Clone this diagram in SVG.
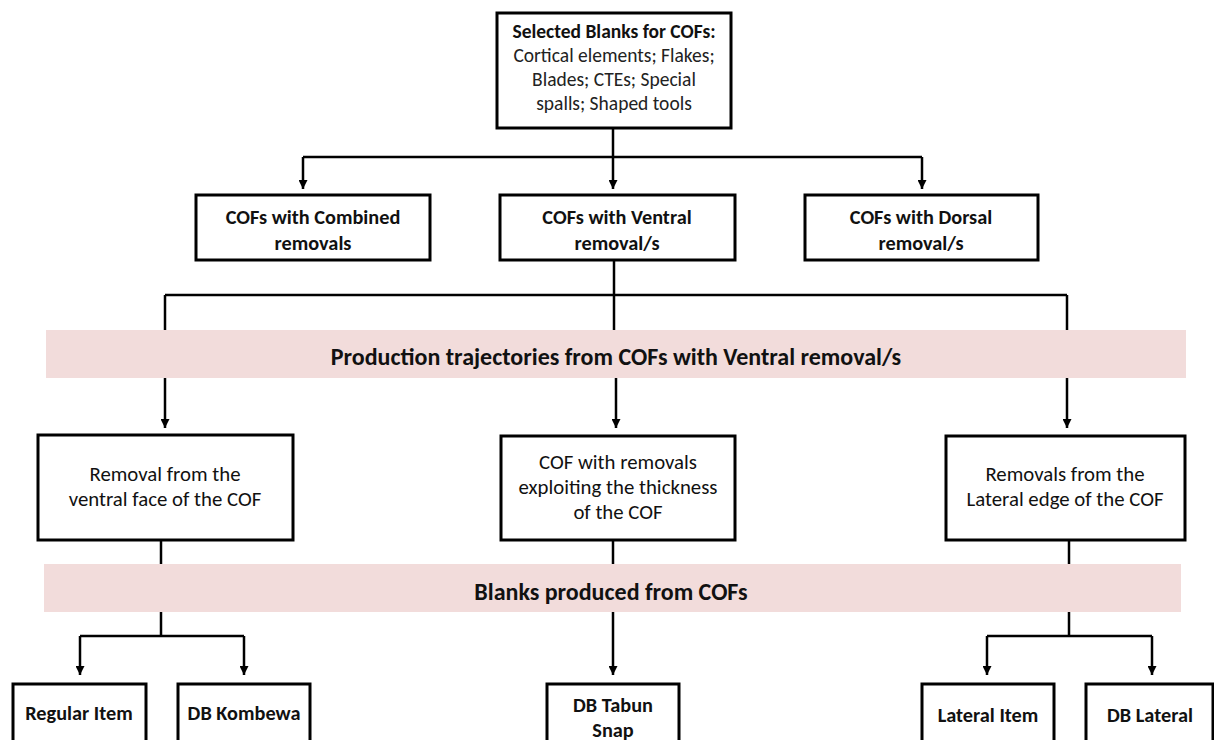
<svg xmlns="http://www.w3.org/2000/svg" width="1214" height="740" viewBox="0 0 1214 740">
<style>
.box{fill:#fff;stroke:#000;stroke-width:3}
.ln{fill:none;stroke:#000;stroke-width:2.5}
.band{fill:#f2dcdb}
text{font-family:Carlito,Lato,"Liberation Sans",sans-serif;fill:#111;text-anchor:middle}
.t1{font-size:19.5px;fill:#222}
.t2{font-size:19.5px;font-weight:bold}
.t3{font-size:20.8px}
.t4{font-size:20.3px;font-weight:bold}
.bt{font-size:24px;font-weight:bold}
</style>
<defs>
<marker id="arr" viewBox="0 0 10 10" refX="10" refY="5" markerWidth="11" markerHeight="9" orient="auto" markerUnits="userSpaceOnUse">
<path d="M0,0 L10,5 L0,10 z" fill="#000"/>
</marker>
</defs>
<rect width="1214" height="740" fill="#fff"/>
<g id="connectors">
<path class="ln" d="M613,128 V189" marker-end="url(#arr)"/>
<path class="ln" d="M303,157 H922"/>
<path class="ln" d="M303,157 V189" marker-end="url(#arr)"/>
<path class="ln" d="M922,157 V189" marker-end="url(#arr)"/>
<path class="ln" d="M614,260 V340"/>
<path class="ln" d="M165,295 H1067"/>
<path class="ln" d="M165,295 V340"/>
<path class="ln" d="M1067,295 V340"/>
<path class="ln" d="M165,370 V428" marker-end="url(#arr)"/>
<path class="ln" d="M616,370 V428" marker-end="url(#arr)"/>
<path class="ln" d="M1067,370 V428" marker-end="url(#arr)"/>
<path class="ln" d="M161,540 V570"/>
<path class="ln" d="M613,540 V570"/>
<path class="ln" d="M1069,540 V570"/>
<path class="ln" d="M161,605 V636"/>
<path class="ln" d="M80,636 H244"/>
<path class="ln" d="M80,636 V675" marker-end="url(#arr)"/>
<path class="ln" d="M244,636 V675" marker-end="url(#arr)"/>
<path class="ln" d="M613,605 V675" marker-end="url(#arr)"/>
<path class="ln" d="M1069,605 V636"/>
<path class="ln" d="M987,636 H1152"/>
<path class="ln" d="M987,636 V675" marker-end="url(#arr)"/>
<path class="ln" d="M1152,636 V675" marker-end="url(#arr)"/>
</g>
<g id="band1">
<rect class="band" x="46" y="330" width="1140" height="48"/>
<text class="bt" x="616" y="365">Production trajectories from COFs with Ventral removal/s</text>
</g>
<g id="band2">
<rect class="band" x="44" y="564" width="1137" height="48"/>
<text class="bt" x="611" y="600">Blanks produced from COFs</text>
</g>
<g id="n-top">
<rect class="box" x="497" y="13" width="234" height="115"/>
<text class="t2" x="614" y="38">Selected Blanks for COFs:</text>
<text class="t1" x="614" y="62">Cortical elements; Flakes;</text>
<text class="t1" x="614" y="86">Blades; CTEs; Special</text>
<text class="t1" x="614" y="110">spalls; Shaped tools</text>
</g>
<g id="n-combined">
<rect class="box" x="196" y="195" width="234" height="65"/>
<text class="t4" x="313" y="224">COFs with Combined</text>
<text class="t4" x="313" y="250">removals</text>
</g>
<g id="n-ventral">
<rect class="box" x="500" y="195" width="235" height="65"/>
<text class="t4" x="617" y="224">COFs with Ventral</text>
<text class="t4" x="617" y="250">removal/s</text>
</g>
<g id="n-dorsal">
<rect class="box" x="805" y="195" width="233" height="65"/>
<text class="t4" x="921" y="224">COFs with Dorsal</text>
<text class="t4" x="921" y="250">removal/s</text>
</g>
<g id="n-ventralface">
<rect class="box" x="38" y="435" width="255" height="105"/>
<text class="t3" x="165" y="481">Removal from the</text>
<text class="t3" x="165" y="506">ventral face of the COF</text>
</g>
<g id="n-thickness">
<rect class="box" x="501" y="436" width="234" height="104"/>
<text class="t3" x="618" y="469">COF with removals</text>
<text class="t3" x="618" y="494">exploiting the thickness</text>
<text class="t3" x="618" y="519">of the COF</text>
</g>
<g id="n-lateraledge">
<rect class="box" x="946" y="436" width="239" height="104"/>
<text class="t3" x="1065" y="481">Removals from the</text>
<text class="t3" x="1065" y="506">Lateral edge of the COF</text>
</g>
<g id="n-regular">
<rect class="box" x="13" y="684" width="133" height="80"/>
<text class="t4" x="79" y="720">Regular Item</text>
</g>
<g id="n-kombewa">
<rect class="box" x="178" y="684" width="132" height="80"/>
<text class="t4" x="244" y="720">DB Kombewa</text>
</g>
<g id="n-tabun">
<rect class="box" x="547" y="684" width="132" height="80"/>
<text class="t4" x="613" y="712">DB Tabun</text>
<text class="t4" x="613" y="737">Snap</text>
</g>
<g id="n-lateralitem">
<rect class="box" x="922" y="684" width="132" height="80"/>
<text class="t4" x="988" y="722">Lateral Item</text>
</g>
<g id="n-dblateral">
<rect class="box" x="1086" y="684" width="127" height="80"/>
<text class="t4" x="1150" y="722">DB Lateral</text>
</g>
</svg>
